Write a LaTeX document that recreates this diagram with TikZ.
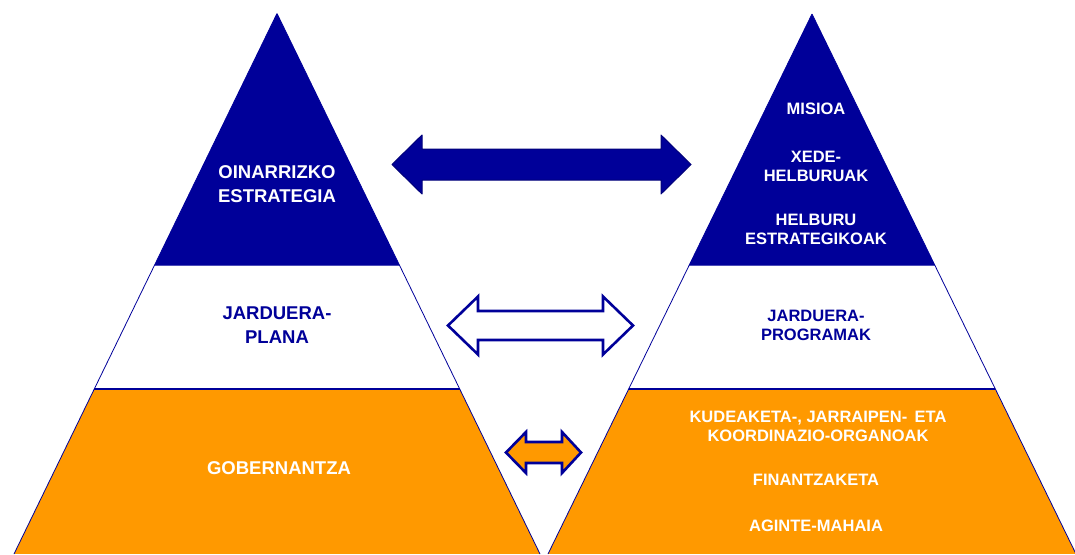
\documentclass[tikz,border=0pt]{standalone}
\usepackage{fontspec}
\setmainfont{Liberation Sans}
\definecolor{navy}{HTML}{000099}
\definecolor{orng}{HTML}{FF9900}
\newcommand\dblarr[8]{%
\draw[#1] (#2,#6) -- (#4,#6-#8) -- (#4,#6-#7) -- (#5,#6-#7) -- (#5,#6-#8) -- (#3,#6)
 -- (#5,#6+#8) -- (#5,#6+#7) -- (#4,#6+#7) -- (#4,#6+#8) -- cycle;}
\begin{document}
\begin{tikzpicture}[x=1pt,y=-1pt,
  wl/.style={font=\bfseries\fontsize{18.5}{24.5}\selectfont, text=white, align=center, inner sep=0pt},
  bl/.style={font=\bfseries\fontsize{18.5}{24.5}\selectfont, text=navy, align=center, inner sep=0pt},
  wr/.style={font=\bfseries\fontsize{16.5}{19}\selectfont, text=white, align=center, inner sep=0pt},
  br/.style={font=\bfseries\fontsize{16.5}{19}\selectfont, text=navy, align=center, inner sep=0pt},
  outl/.style={draw=navy, line width=0.8pt}]
\useasboundingbox (0,0) rectangle (1075,554);
% left pyramid
\begin{scope}
\clip (277,13.5) -- (14,554) -- (540,554) -- cycle;
\fill[navy] (0,0) rectangle (560,265);
\fill[orng] (0,389) rectangle (560,554);
\draw[navy!70, line width=1pt] (0,265) -- (560,265);
\draw[navy, line width=1.2pt] (0,389) -- (560,389);
\end{scope}
\draw[outl] (277,13.5) -- (14,554) (277,13.5) -- (540,554);
% right pyramid
\begin{scope}
\clip (812,14) -- (548,554) -- (1076,554) -- cycle;
\fill[navy] (530,0) rectangle (1075,265);
\fill[orng] (530,389) rectangle (1075,554);
\draw[navy!70, line width=1pt] (530,265) -- (1075,265);
\draw[navy, line width=1.2pt] (530,389) -- (1075,389);
\end{scope}
\draw[outl] (812,14) -- (548,554) (812,14) -- (1076,554);
% arrows
\dblarr{fill=navy, draw=navy!80!black, line width=1pt, line join=round}{392}{691}{422}{661}{164.5}{15.5}{29.5}
\dblarr{fill=white, draw=navy, line width=2.6pt, line join=miter}{448}{633}{478}{603}{325.5}{14.5}{29}
\dblarr{fill=orng, draw=navy, line width=2.6pt, line join=miter}{506}{581}{526}{562}{452.5}{10.5}{20.5}
% left texts
\node[wl] (oin) at (277,184) {OINARRIZKO\\ESTRATEGIA};
\node[bl] (jpl) at (277,325) {JARDUERA-\\PLANA};
\node[wl] (gob) at (279,468.5) {GOBERNANTZA};
% right texts
\node[wr] (mis) at (816,109) {MISIOA};
\node[wr] (xed) at (816,166) {XEDE-\\HELBURUAK};
\node[wr] (hel) at (816,229) {HELBURU\\ESTRATEGIKOAK};
\node[br] (jpr) at (816,325) {JARDUERA-\\PROGRAMAK};
\node[wr] (kud) at (818,426) {KUDEAKETA-, JARRAIPEN-\ \,ETA\\KOORDINAZIO-ORGANOAK};
\node[wr] (fin) at (816,480) {FINANTZAKETA};
\node[wr] (agi) at (816,525.5) {AGINTE-MAHAIA};
\end{tikzpicture}
\end{document}
